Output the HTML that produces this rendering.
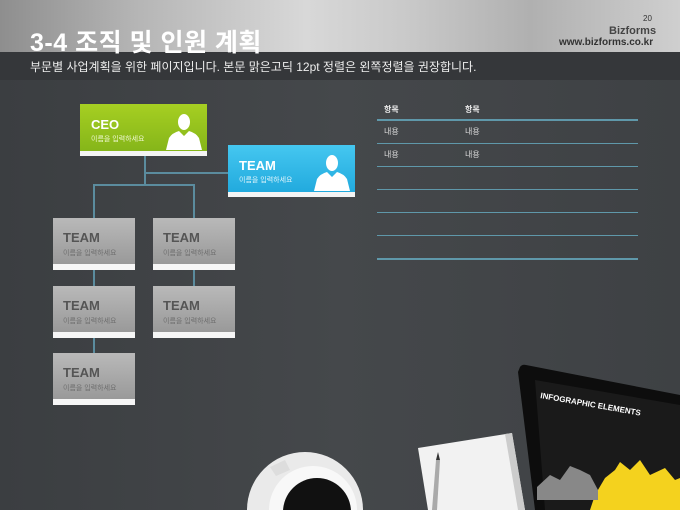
<!DOCTYPE html>
<html><head><meta charset="utf-8"><style>
*{margin:0;padding:0;box-sizing:border-box}
html,body{width:680px;height:510px;overflow:hidden}
body{background:#3c3f42;font-family:"Liberation Sans","Noto Sans CJK KR",sans-serif;position:relative}
.hdr{position:absolute;left:0;top:0;width:680px;height:52px;background:linear-gradient(90deg,#8e8e8e 0%,#b5b5b5 20%,#d8d8d8 45%,#c9c9c9 60%,#b0b0b0 78%,#cfcfcf 100%)}
.band{position:absolute;left:0;top:52px;width:680px;height:28px;background:#35373a}
.bg{position:absolute;left:0;top:80px;width:680px;height:430px;background:linear-gradient(90deg,#3b3e41,#45484b 50%,#3e4144)}
.t{position:absolute;white-space:nowrap}
.box{position:absolute;width:127px;height:52px}
.box .strip{position:absolute;left:0;bottom:0;width:100%;height:5px;background:#f4f4f4}
.gbox{position:absolute;width:82px;height:52px;background:linear-gradient(#b9b9b9,#959595)}
.gbox .strip{position:absolute;left:0;bottom:0;width:100%;height:6px;background:#f6f6f6}
.gbox b{position:absolute;left:10px;top:12px;font-size:13px;color:#555}
.gbox span{position:absolute;left:10px;top:30px;font-size:7px;color:#6e6e6e}
.ln{position:absolute;background:#5b8c9e}
.tl{position:absolute;left:377px;width:261px;height:1px;background:#5f98aa}
</style></head><body>
<div class="hdr"></div><div class="band"></div><div class="bg"></div>
<div class="t" style="left:30px;top:23px;font-size:25px;font-weight:bold;color:#fff;letter-spacing:0.5px">3-4 조직 및 인원 계획</div>
<div class="t" style="left:643px;top:14px;font-size:8px;color:#333">20</div>
<div class="t" style="left:609px;top:25px;font-size:11px;font-weight:bold;color:#444">Bizforms</div>
<div class="t" style="left:559px;top:37px;font-size:10px;font-weight:bold;color:#333">www.bizforms.co.kr</div>
<div class="t" style="left:30px;top:58px;font-size:12px;color:#eee">부문별 사업계획을 위한 페이지입니다. 본문 맑은고딕 12pt 정렬은 왼쪽정렬을 권장합니다.</div>

<div class="ln" style="left:144px;top:156px;width:2px;height:30px"></div>
<div class="ln" style="left:144px;top:172px;width:85px;height:2px"></div>
<div class="ln" style="left:93px;top:184px;width:101px;height:2px"></div>
<div class="ln" style="left:93px;top:184px;width:2px;height:170px"></div>
<div class="ln" style="left:193px;top:184px;width:2px;height:103px"></div>

<div class="box" style="left:80px;top:104px;background:linear-gradient(#a6cf22,#82b319)">
<div class="t" style="left:11px;top:13px;font-size:13px;font-weight:bold;color:#fff">CEO</div>
<div class="t" style="left:11px;top:30px;font-size:7px;color:#eef7d0">이름을 입력하세요</div>
<svg style="position:absolute;left:84px;top:6px" width="40" height="40" viewBox="0 0 40 40"><ellipse cx="20" cy="12" rx="6" ry="8" fill="#fff"/><path d="M2 40 L5 28 Q8 23 15 21 L20 26 L25 21 Q32 23 35 28 L38 40Z" fill="#fff"/></svg>
<div class="strip"></div></div>

<div class="box" style="left:228px;top:145px;background:linear-gradient(#45c7f0,#1ea7dc)">
<div class="t" style="left:11px;top:13px;font-size:13px;font-weight:bold;color:#fff">TEAM</div>
<div class="t" style="left:11px;top:30px;font-size:7px;color:#e0f4fb">이름을 입력하세요</div>
<svg style="position:absolute;left:84px;top:6px" width="40" height="40" viewBox="0 0 40 40"><ellipse cx="20" cy="12" rx="6" ry="8" fill="#fff"/><path d="M2 40 L5 28 Q8 23 15 21 L20 26 L25 21 Q32 23 35 28 L38 40Z" fill="#fff"/></svg>
<div class="strip"></div></div>

<div class="gbox" style="left:53px;top:218px"><b>TEAM</b><span>이름을 입력하세요</span><div class="strip"></div></div>
<div class="gbox" style="left:153px;top:218px"><b>TEAM</b><span>이름을 입력하세요</span><div class="strip"></div></div>
<div class="gbox" style="left:53px;top:286px"><b>TEAM</b><span>이름을 입력하세요</span><div class="strip"></div></div>
<div class="gbox" style="left:153px;top:286px"><b>TEAM</b><span>이름을 입력하세요</span><div class="strip"></div></div>
<div class="gbox" style="left:53px;top:353px"><b>TEAM</b><span>이름을 입력하세요</span><div class="strip"></div></div>

<div class="t" style="left:384px;top:104px;font-size:8px;font-weight:bold;color:#eee">항목</div>
<div class="t" style="left:465px;top:104px;font-size:8px;font-weight:bold;color:#eee">항목</div>
<div class="tl" style="top:119px;height:2px"></div>
<div class="t" style="left:384px;top:126px;font-size:8px;color:#ddd">내용</div>
<div class="t" style="left:465px;top:126px;font-size:8px;color:#ddd">내용</div>
<div class="tl" style="top:143px"></div>
<div class="t" style="left:384px;top:149px;font-size:8px;color:#ddd">내용</div>
<div class="t" style="left:465px;top:149px;font-size:8px;color:#ddd">내용</div>
<div class="tl" style="top:166px"></div>
<div class="tl" style="top:189px"></div>
<div class="tl" style="top:212px"></div>
<div class="tl" style="top:235px"></div>
<div class="tl" style="top:258px;height:2px"></div>

<svg style="position:absolute;left:0;top:0" width="680" height="510" viewBox="0 0 680 510">
<circle cx="305" cy="510" r="58" fill="#eaeaea"/>
<circle cx="313" cy="510" r="44" fill="#f8f8f8"/>
<circle cx="317" cy="512" r="34" fill="#111"/>
<path d="M270 467 L285 460 L290 470 L276 476Z" fill="#ddd"/>
<path d="M418 448 L512 433 L525 510 L428 510Z" fill="#f2f2f2"/>
<path d="M505 434 L512 433 L525 510 L518 510Z" fill="#ccc"/>
<path d="M432 510 L436 460 L440 460 L437 510Z" fill="#aaa"/>
<path d="M436 460 L438 452 L440 460Z" fill="#333"/>
<path d="M520 367 Q522 364 526 365 L680 395 L680 510 L535 510 L518 372Z" fill="#0d0d0d"/>
<path d="M535 380 L680 405 L680 510 L545 510Z" fill="#1a1a1a"/>
<path d="M595 495 L605 478 L615 470 L620 462 L630 470 L640 460 L650 475 L665 468 L675 480 L680 478 L680 510 L590 510Z" fill="#f4d21e"/>
<path d="M537 487 L550 475 L560 480 L570 466 L580 470 L590 475 L598 490 L598 500 L537 500Z" fill="#888"/>
<text x="540" y="398" transform="rotate(10 540 398)" font-size="8" font-weight="bold" fill="#fff" font-family="Liberation Sans">INFOGRAPHIC ELEMENTS</text>
</svg>
</body></html>
